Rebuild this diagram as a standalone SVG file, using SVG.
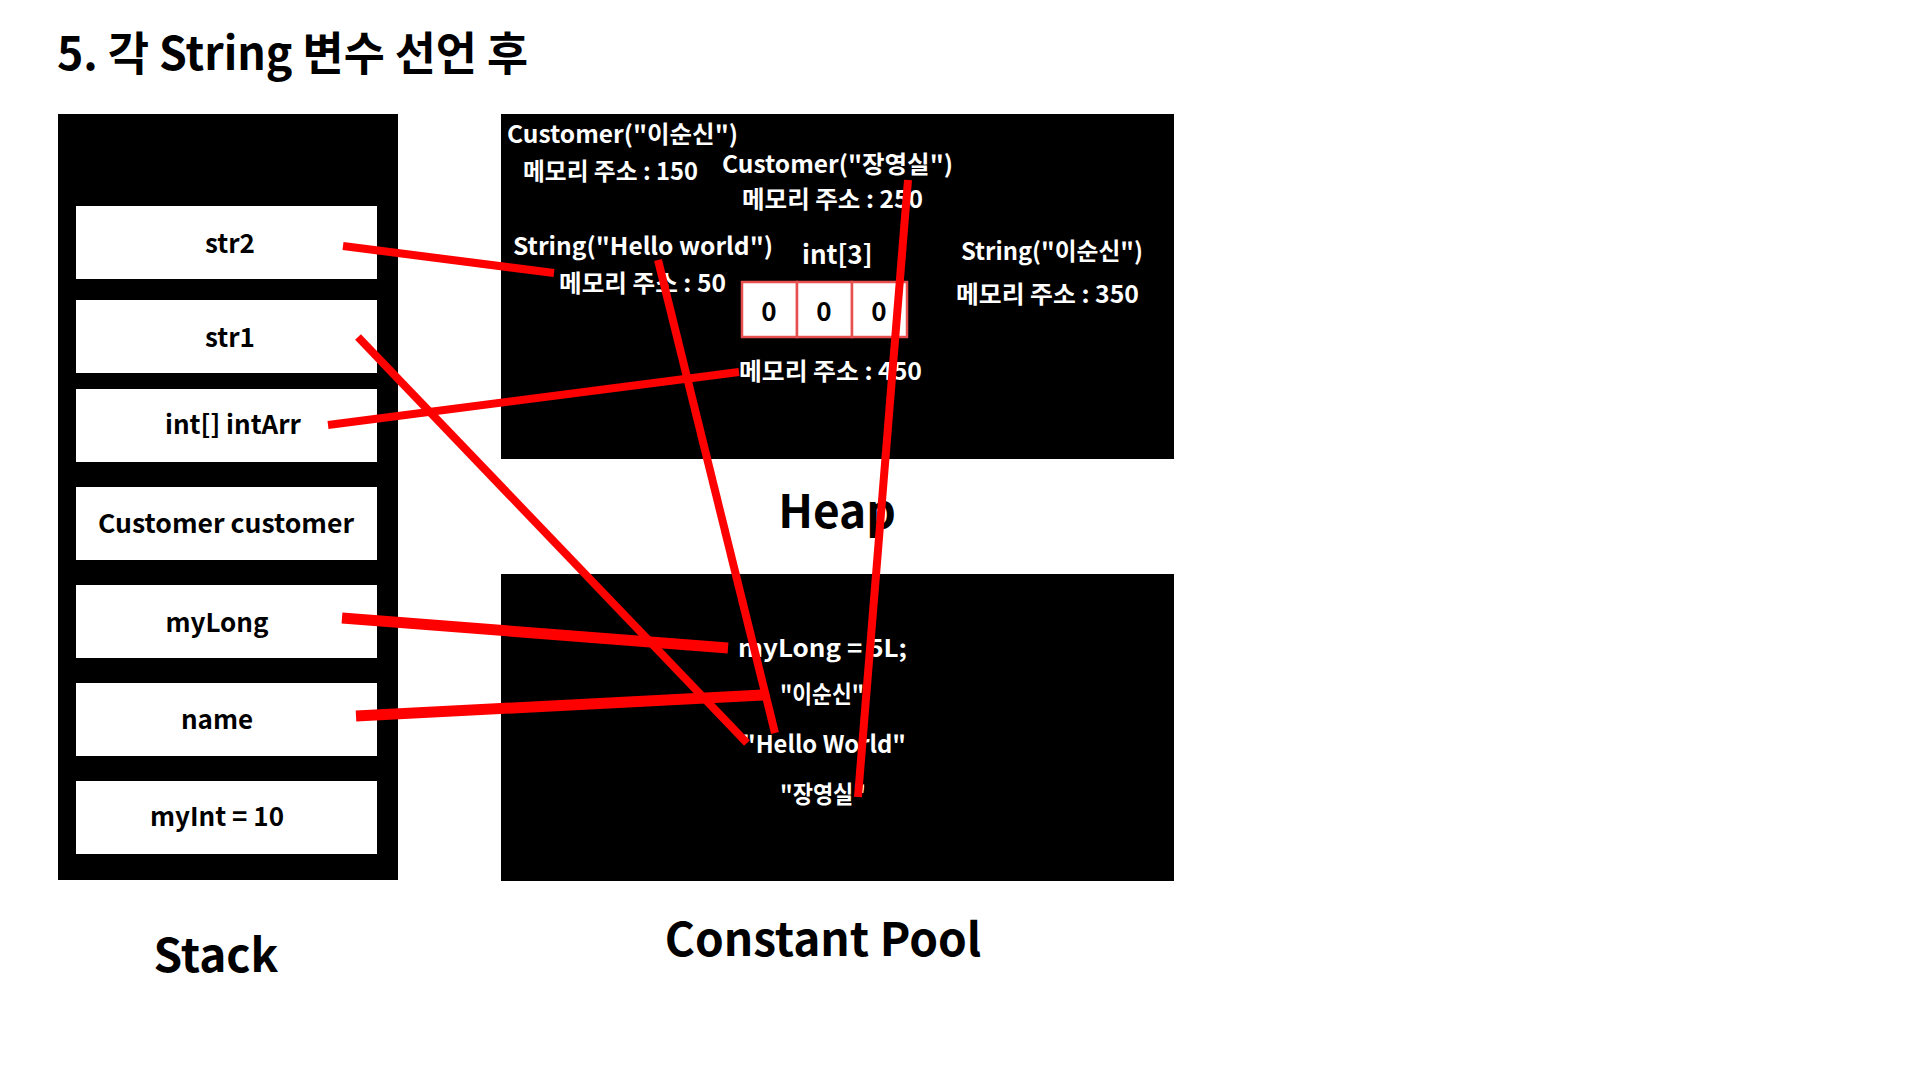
<svg xmlns="http://www.w3.org/2000/svg" width="1920" height="1080" viewBox="0 0 1920 1080">
<style>
text{font-family:"Noto Sans CJK KR","Noto Sans",sans-serif;font-weight:700}
.blk{fill:#000}
.cell{fill:#fff}
.st{font-size:26px;fill:#000;text-anchor:middle}
.w{font-size:24px;fill:#fff}
.big{font-size:46px;fill:#000;text-anchor:middle}
.arr{fill:#fff;stroke:#e85050;stroke-width:2.5}
.z{font-size:26px;fill:#000;text-anchor:middle}
.ln{stroke:#ff0000;stroke-width:8;fill:none}
.lnb{stroke:#ff0000;stroke-width:11;fill:none}
</style>
<rect width="1920" height="1080" fill="#fff"/>
<text id="title" x="57" y="70" style="font-size:46px;fill:#000" textLength="471" lengthAdjust="spacingAndGlyphs">5. 각 String 변수 선언 후</text>

<g id="stack">
<rect class="blk" x="58" y="114" width="340" height="766"/>
<g id="stack-str2"><rect class="cell" x="76" y="206" width="301" height="73"/><text class="st" x="230" y="253">str2</text></g>
<g id="stack-str1"><rect class="cell" x="76" y="300" width="301" height="73"/><text class="st" x="230" y="347">str1</text></g>
<g id="stack-intArr"><rect class="cell" x="76" y="389" width="301" height="73"/><text class="st" x="233" y="434">int[] intArr</text></g>
<g id="stack-customer"><rect class="cell" x="76" y="487" width="301" height="73"/><text class="st" x="226" y="533" textLength="256" lengthAdjust="spacingAndGlyphs">Customer customer</text></g>
<g id="stack-myLong"><rect class="cell" x="76" y="585" width="301" height="73"/><text class="st" x="217" y="632">myLong</text></g>
<g id="stack-name"><rect class="cell" x="76" y="683" width="301" height="73"/><text class="st" x="217" y="729">name</text></g>
<g id="stack-myInt"><rect class="cell" x="76" y="781" width="301" height="73"/><text class="st" x="217" y="826">myInt = 10</text></g>
<text class="big" x="216" y="972">Stack</text>
</g>

<g id="heap">
<rect class="blk" x="501" y="114" width="673" height="345"/>
<g id="heap-customer1"><text class="w" x="507" y="143" textLength="231" lengthAdjust="spacingAndGlyphs">Customer("이순신")</text><text class="w" x="523" y="180" textLength="175" lengthAdjust="spacingAndGlyphs">메모리 주소 : 150</text></g>
<g id="heap-customer2"><text class="w" x="722" y="173" textLength="231" lengthAdjust="spacingAndGlyphs">Customer("장영실")</text><text class="w" x="742" y="208" textLength="181" lengthAdjust="spacingAndGlyphs">메모리 주소 : 250</text></g>
<g id="heap-string1"><text class="w" x="513" y="255" textLength="260" lengthAdjust="spacingAndGlyphs">String("Hello world")</text><text class="w" x="559" y="292" textLength="167" lengthAdjust="spacingAndGlyphs">메모리 주소 : 50</text></g>
<g id="heap-string2"><text class="w" x="961" y="260" textLength="182" lengthAdjust="spacingAndGlyphs">String("이순신")</text><text class="w" x="956" y="303" textLength="183" lengthAdjust="spacingAndGlyphs">메모리 주소 : 350</text></g>
<g id="heap-array">
<text class="w" x="802" y="264" style="font-size:26px">int[3]</text>
<rect class="arr" x="742" y="282" width="55" height="55"/>
<rect class="arr" x="797" y="282" width="55" height="55"/>
<rect class="arr" x="852" y="282" width="55" height="55"/>
<text class="z" x="769" y="321">0</text><text class="z" x="824" y="321">0</text><text class="z" x="879" y="321">0</text>
<text class="w" x="739" y="380" textLength="183" lengthAdjust="spacingAndGlyphs">메모리 주소 : 450</text>
</g>
<text class="big" x="837" y="528">Heap</text>
</g>

<g id="pool">
<rect class="blk" x="501" y="574" width="673" height="307"/>
<text class="w" x="738" y="657" textLength="169" lengthAdjust="spacingAndGlyphs">myLong = 5L;</text>
<text class="w" x="780" y="703" textLength="84" lengthAdjust="spacingAndGlyphs">"이순신"</text>
<text class="w" x="742" y="753" textLength="164" lengthAdjust="spacingAndGlyphs">"Hello World"</text>
<text class="w" x="780" y="803" textLength="86" lengthAdjust="spacingAndGlyphs">"장영실"</text>
<text class="big" x="823" y="956">Constant Pool</text>
</g>

<g id="connectors">
<line class="ln" x1="343" y1="246" x2="554" y2="273"/>
<line class="ln" x1="358" y1="337" x2="747" y2="743"/>
<line class="ln" x1="328" y1="425" x2="739" y2="372"/>
<line class="lnb" x1="342" y1="618" x2="728" y2="648"/>
<line class="lnb" x1="356" y1="716" x2="763" y2="695"/>
<line class="ln" x1="658" y1="260" x2="775" y2="733"/>
<line class="ln" x1="908" y1="180" x2="858" y2="797"/>
</g>
</svg>
